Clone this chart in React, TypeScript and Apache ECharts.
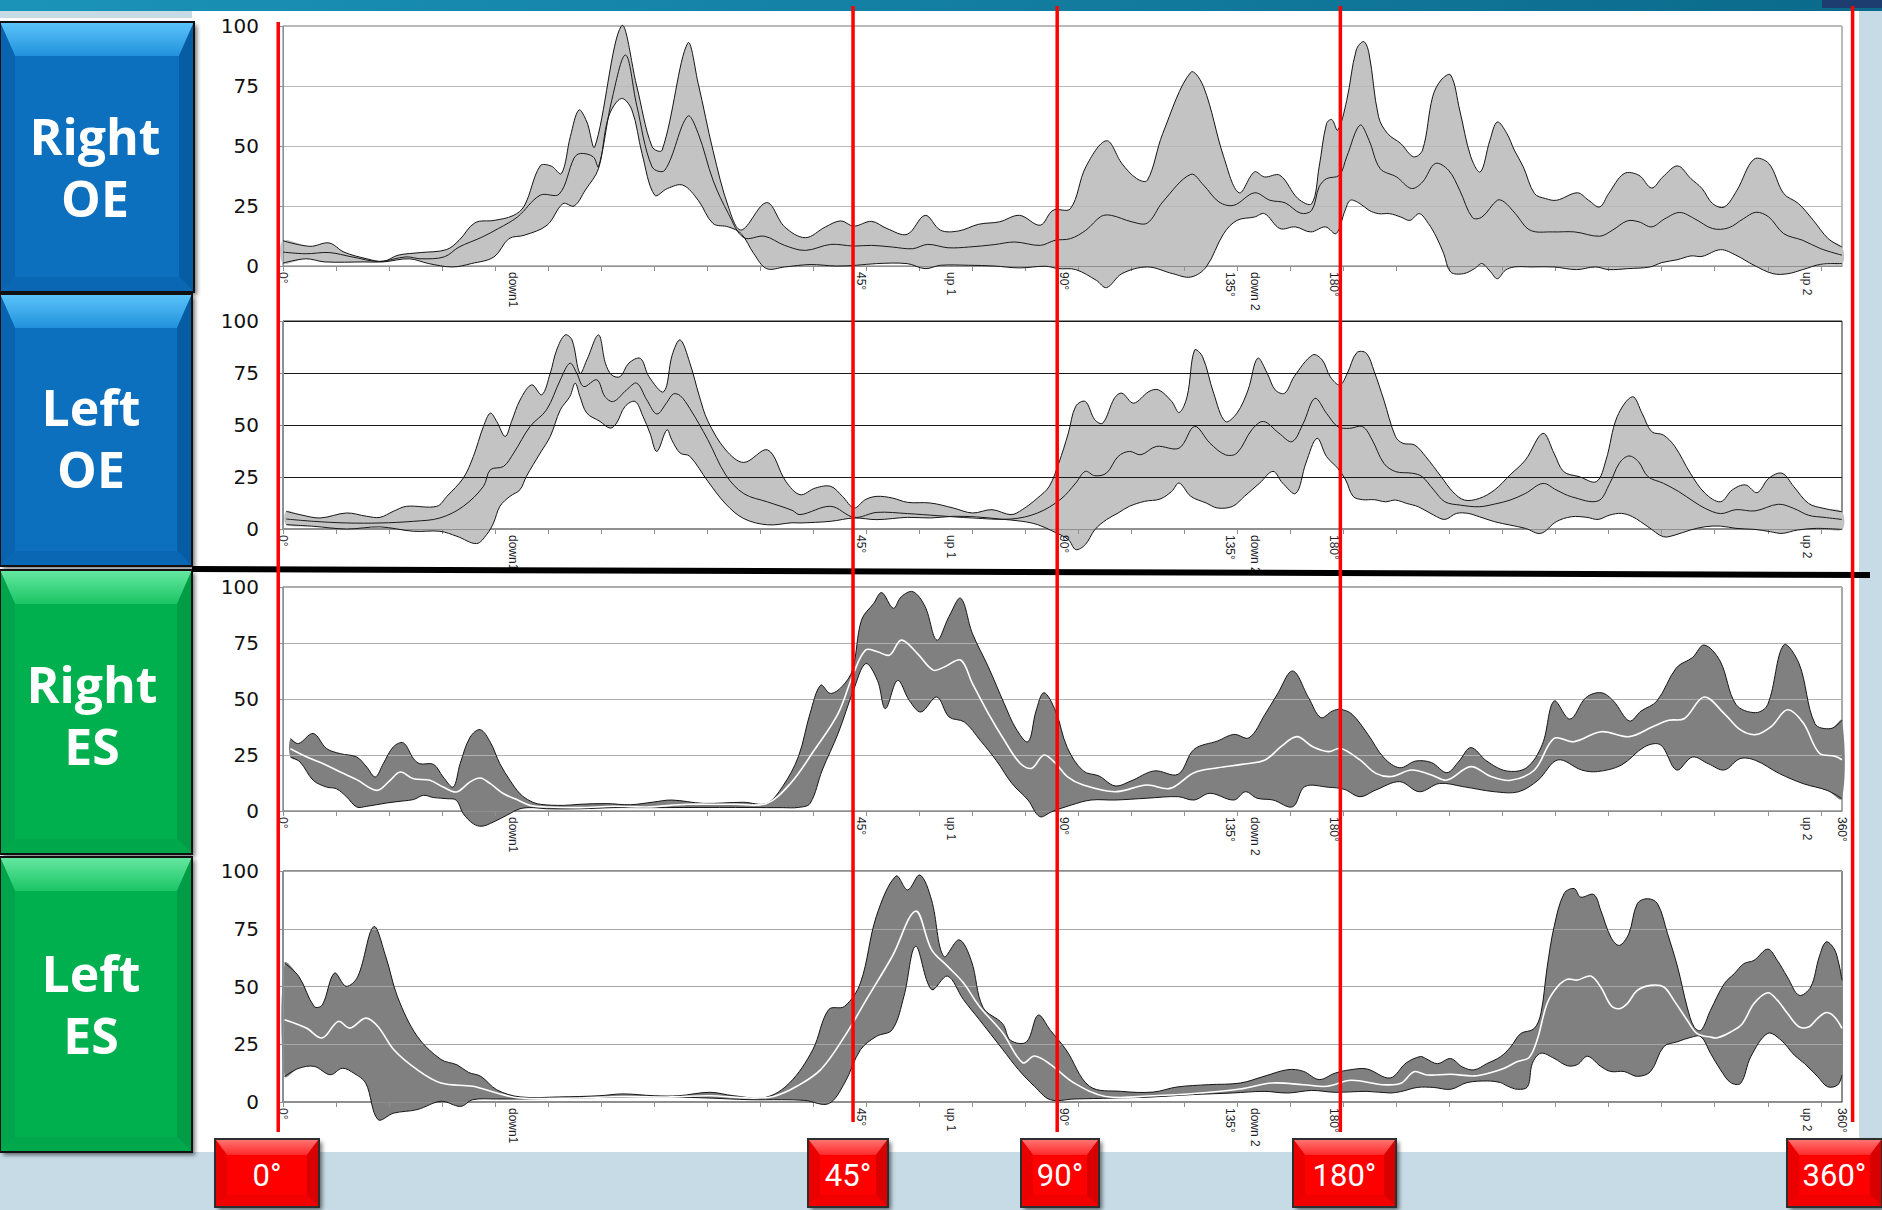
import React, { useEffect, useRef } from "react";
import * as echarts from "echarts";

// ---------------- data (x = frame index, 10 frames per tick; y = % of max) ----------------
const X_MAX = 294;
const tickValues = [0, 10, 20, 30, 40, 50, 60, 70, 80, 90, 100, 110, 120, 130, 140, 150, 160, 170, 180, 190, 200, 210, 220, 230, 240, 250, 260, 270, 280, 290];
const labelsOE = ["0°", "down1", "45°", "up 1", "90°", "135°", "down 2", "180°", "up 2"];
const labelPosOE = [0, 43.4, 109, 126, 147.2, 178.6, 183.3, 198.2, 287.4];
const labelsES = ["0°", "down1", "45°", "up 1", "90°", "135°", "down 2", "180°", "up 2", "360°"];
const labelPosES = [0, 43.4, 109, 126, 147.2, 178.6, 183.3, 198.2, 287.4, 294];
const panelNames = ["Right\nOE", "Left\nOE", "Right\nES", "Left\nES"];
const degreeMarks = ["0°", "45°", "90°", "180°", "360°"];
const degreeMarkPos = [-0.9, 107.5, 146.0, 199.4, 296.0];

// Right OE
const rOE_upper = [[0,10.5],[5.1,8.2],[8.7,9.6],[11.5,5.8],[15.8,3],[18.9,1.9],[21.7,4.5],[26,5.6],[30.8,6.8],[33.2,10.7],[36.2,18],[39.8,19],[43.4,21],[45.5,25],[48.5,41.7],[50.6,41.6],[52.5,38.5],[54.2,54],[55.8,65],[57.3,60],[58.8,49.7],[63.8,100],[66.7,75],[69.6,49.7],[71.5,48.3],[76.3,92.8],[78.3,76],[81.1,48],[84,24.6],[86.4,15],[91.2,26.4],[94.6,16.3],[98.5,11.8],[102.3,16.3],[105.2,18.8],[107.6,16.6],[111,18.6],[113.9,15.6],[117.7,13.2],[121.1,21.1],[124,14.9],[127.4,14.6],[131.2,17.4],[135.1,18.4],[138.9,21.1],[142.8,17],[145.2,23.2],[148.5,23.9],[151.4,41.3],[155.3,52.2],[158.2,42.7],[161,36.4],[163,35.7],[165.9,55.2],[171.2,80.7],[173.6,74.7],[177.4,45.5],[180.3,30.5],[183.2,39.2],[185.1,37.1],[188,37.8],[191.4,28.1],[194,26],[195.4,41.3],[196.8,59.4],[197.8,61],[198.9,56.6],[200.6,69],[202.4,90],[203.8,93.5],[204.8,88.6],[206.6,62.2],[208.3,55.2],[210.8,51],[213.2,45.5],[214.9,48.3],[216.8,70.5],[218.4,77.5],[220.2,79.6],[221.9,65],[224,45.5],[225.8,39.2],[227.6,52.4],[229,60],[230.8,55.2],[232.2,48.3],[233.9,41.3],[236,30.2],[238.1,28.1],[240.2,27.4],[244.1,30.5],[246.2,27.4],[248.3,24.6],[250,30.2],[252.9,38.5],[255.7,37.8],[258.1,32.5],[260.2,37.1],[263,41.7],[265.5,36.4],[267.6,32.3],[269.6,26],[271.8,24.6],[274.2,31.6],[277.4,44.5],[280.2,42.7],[283,30.2],[285.8,26],[288.6,19],[291.4,11.4],[294,7.9]];
const rOE_mean = [[0,5.8],[4.3,5.1],[8.7,5.6],[13,3.8],[18.1,1.9],[23.2,3.8],[26,3],[30.4,3.8],[33.2,7.9],[37.5,12],[40.6,15.6],[44.2,20.4],[48.5,29.5],[52.1,30],[54.9,45],[56.1,46.9],[58.5,45.5],[59.5,41.3],[62,69.1],[64.6,87.9],[66.7,67],[69.6,41.3],[72,39.9],[76.3,62.4],[78.3,55.2],[81.1,35.7],[84,21.8],[86.9,11.8],[90.8,12.4],[94.6,8.6],[98.5,6.5],[103.3,9],[107.6,8.3],[111,8.6],[114.9,7.9],[118.7,7.2],[121.6,9],[125.4,7.6],[129.3,7.9],[134.1,8.9],[138,10],[142.8,8.6],[145.6,10.7],[148.5,11.4],[151.4,14.9],[154.3,20.7],[156.2,21.1],[160.1,18.4],[163,17.9],[165.9,26.7],[171.2,38.2],[173.6,33.7],[176.5,26.7],[179.3,25.3],[183.2,30.5],[186.1,27.4],[189,26.3],[191.9,22],[194,23.2],[195.4,33],[196.8,36.4],[199.2,37.8],[200.6,45.5],[203.1,58.7],[204.8,52.4],[206.9,40.6],[210,37.1],[212.8,32.3],[214.9,35],[217.3,42.7],[219.8,39.9],[221.9,31.6],[224.3,20.2],[226.1,20.4],[229,27.4],[230.3,26.7],[232.4,21.8],[235.2,14.9],[239.4,14.2],[243.6,14.2],[248.3,12.4],[250.7,14.9],[253.5,18.8],[255.7,18.4],[258.1,16.3],[260.6,19.7],[263.4,22.3],[266.2,19.7],[269.6,15.6],[272.6,15.9],[275.4,19.7],[277.8,22.4],[280.2,20.4],[283,13.5],[286.6,10.7],[290,7.2],[294,4.5]];
const rOE_lower = [[0,1.2],[4.3,3],[7.9,1.7],[15.3,1.7],[18.9,1.7],[23.8,3],[27.5,1],[31.9,-0.4],[35.5,1],[39.8,3.8],[42.6,11.4],[45.5,12.8],[49.8,17],[52.8,26],[54.9,25],[57,31.6],[59.5,40.6],[61.4,62.2],[63.8,69.8],[65.8,65],[67.7,46.9],[70.1,29.5],[72.5,32.3],[75.4,33.7],[78.3,27.4],[81.1,17.7],[84,16.3],[86.4,13.5],[88.8,5.1],[91.2,-1.1],[94.6,-0.4],[99.4,0.6],[104.3,0],[108.1,0.3],[111.9,1],[117.7,1],[121.1,-1.1],[124,0.3],[129.3,0.3],[134.1,0],[138.9,-0.8],[143.8,-0.1],[146.2,-1.1],[149.5,-1.5],[153.4,-6],[155.3,-9],[158.2,-3.2],[163,-0.4],[167.8,-3.2],[171.2,-4.6],[174.1,-0.4],[177.4,13.5],[179.9,19],[183.2,20.4],[185.1,21.8],[188,15.6],[190.9,16.3],[193.8,14.2],[196.6,16.3],[198.6,13.5],[200.3,23.2],[201.3,27.4],[203.1,26],[204.8,23.2],[206.6,21.8],[208.7,21.8],[210.8,20.4],[212.5,19],[214.3,21.8],[216,17.7],[217.5,12.1],[218.9,5.1],[220.2,-2.5],[222.6,-3.2],[224.7,-1.1],[226.1,1],[227.6,-2.1],[229,-5.3],[230.5,-1.8],[232.2,-0.4],[235.5,-0.4],[239.7,-0.4],[243.9,-1.5],[247.5,-0.4],[250,-1.5],[253.6,-1.1],[257.8,-0.4],[260,1.4],[262.9,2.6],[265.5,4.2],[267.6,4],[271.1,6.8],[274,4.5],[277.4,0.3],[281,-3.2],[283.8,-3.2],[286.6,-1.5],[290,0.7],[294,1]];

// Left OE
const lOE_upper = [[0.6,8.5],[3.2,6.9],[7,5.3],[12,7.7],[15.8,6.1],[18.3,5.6],[20.8,8.5],[23.3,10.9],[29,10.9],[30.9,15.7],[34,24.5],[35.9,34.9],[37.8,49.3],[39.1,55.7],[40.3,51.7],[41.9,44.5],[43.1,51.7],[44.7,62],[46.9,69.3],[48.8,64.5],[50.4,74.9],[51.6,86],[53.2,93.3],[54.5,90.9],[56,74.9],[57.3,81.3],[59.5,93.3],[60.8,79.7],[62,74],[63.6,73.3],[65.2,79.7],[67.4,82],[69,73.3],[71.8,66],[73.4,83.7],[74.9,90.9],[76.7,80],[78.5,64],[80.1,52],[83.5,38],[86.9,32],[91.4,38],[94.8,23],[97.5,16.5],[100.4,19.7],[103.3,20.5],[105.5,15.7],[107.7,10.1],[109.8,14.1],[112,15.7],[114.9,14.9],[117.8,12.8],[122.1,12.5],[126.4,10.1],[130,7.7],[133.7,9.3],[137.3,6.9],[139.4,9.3],[142.3,14.9],[144.5,20.5],[146.3,31.7],[148.1,46.1],[149.5,59],[151.3,61.3],[153.1,52.5],[154.6,50.9],[156.8,62.9],[158.2,65.3],[160.4,60.5],[163.3,66.1],[165.1,66.9],[167.6,61.3],[169,56],[170.5,63.7],[171.9,86],[173.4,82.9],[175.5,65.3],[177.7,51.7],[179.9,55.7],[182,66.9],[183.8,82.1],[185.6,74.9],[187.1,66.9],[188.9,65.3],[190.7,73.3],[194.2,83.7],[196,81.2],[197.5,73.2],[199.3,69.2],[200.7,74.8],[202.5,84.8],[204.3,84.5],[205.8,75.6],[207.6,62],[209.8,44.4],[211.2,41.2],[213.4,40.4],[215.5,34.8],[218.4,25.2],[220.6,17.9],[222.8,13.9],[225.6,14.7],[228.5,18.8],[231.4,26],[234.3,33.2],[237.6,46],[239.7,36.4],[241.5,27.6],[244.4,25.2],[247.7,22.8],[249.5,33.2],[251.6,54],[254.5,63.6],[256.3,55.6],[258.1,46.8],[260.3,45.2],[262.5,39.6],[265.4,26.8],[268.2,17.1],[271.1,13.1],[273.3,18.8],[275.8,21.2],[278,17.5],[280.2,24.4],[282.7,26.8],[284.9,20.4],[287.7,12.3],[290.6,9.9],[294,8.3]];
const lOE_mean = [[0.6,4.8],[5.7,3.7],[12,2.9],[18.3,2.9],[24.6,3.7],[29.6,5.3],[34,10.9],[37.8,20.5],[39.1,28.5],[41.6,30.1],[43.5,36.5],[46.6,49.3],[49.7,57.3],[52.3,71.7],[54.1,79.7],[55.4,74.9],[56.7,68.5],[59.2,71.7],[60.7,63.7],[62.3,61.3],[64.8,66.9],[66.7,70.1],[68.6,62.1],[70.5,55.3],[72.4,60.9],[73.6,64.9],[74.9,64.1],[76.7,58],[80.1,43],[83.5,26],[86.9,17],[91.4,13],[96,9],[97.5,6.9],[103.3,10.9],[107.7,5.6],[112,8],[117.8,7.4],[123.5,6.4],[130,5.3],[137.3,4.8],[142.3,7.7],[146.7,14.4],[149.5,22.1],[151.3,27.7],[153.1,25.6],[155.3,26.9],[157.5,34.9],[159.6,37.3],[161.8,35.7],[164.7,39.7],[169,38.9],[171.9,49.3],[174.8,41.3],[177.7,35.7],[179.9,36.5],[182.7,47.7],[184.9,51.7],[187.8,46.1],[190.3,42],[192.4,50.8],[194.6,62.8],[196.8,55.6],[198.9,49.2],[201.1,48.4],[203.6,49.2],[205.4,42.8],[207.6,31.6],[209.8,27.6],[213,26.8],[214.8,25.2],[217,18.8],[219.1,13.1],[222,11.5],[225.6,10.7],[228.5,12],[231.4,13.9],[234.3,17.1],[237.6,21.9],[240.1,18.8],[243,15.5],[248,13.5],[250.2,21.9],[252,31.6],[253.8,35.1],[255.6,32.4],[257.4,25.2],[260.3,22],[263.2,18],[266.1,13.1],[268.2,9.9],[271.1,7.4],[274,9.3],[277.6,8.7],[282,11.9],[284.9,9.9],[287.7,6.6],[290.6,5.6],[294,4.6]];
const lOE_lower = [[0.6,2.1],[5.7,1.3],[12,0],[18.3,1],[24.6,-1.1],[29.6,-1.1],[32.8,-3.5],[36.5,-7],[38.4,-2.7],[39.7,2.9],[40.9,10.9],[42.8,15.7],[44.7,18.9],[45.9,25.3],[48.5,36.5],[50.4,44.5],[52.3,57.3],[54.1,63.7],[55.1,70.1],[56,63.7],[57.3,55.7],[59.8,51.7],[61.7,48.5],[62.9,50.9],[64.5,58.9],[66.4,61.3],[67.9,54.1],[69.2,46.1],[70.5,37.3],[72.4,47.7],[73.3,42.9],[74.9,36.5],[76.7,35],[80.1,23],[83.5,12],[86.9,5],[91.4,2],[96,3],[97.5,2.9],[103.3,3.7],[107.7,5.3],[112,4.5],[117.8,5.6],[122.1,5.3],[126.4,6.1],[130.8,5.8],[135.1,4.8],[139.4,3.7],[142.3,2.1],[145.2,-1.1],[148.1,-5.1],[149.5,-9.9],[151.3,-7.5],[153.1,-0.3],[155.3,4.5],[157.5,7.7],[159.6,10.9],[162.5,13.3],[165.4,14.4],[167.6,18.1],[169,22.1],[171.2,15.7],[174.1,12.5],[176.2,10.1],[179.1,10.9],[181.3,15.7],[184.2,22.1],[186.7,27.7],[188.5,22.1],[191,17.1],[192.9,31.7],[195,43.6],[196.8,34.8],[198.9,29.2],[200.4,23.6],[201.8,15.7],[203.6,14.1],[205.8,14.1],[207.9,13.1],[209.8,13.9],[211.9,12.3],[214.1,10.7],[217,6.7],[219.1,4.6],[221.3,7.5],[223.5,7.5],[225.6,5.9],[228.5,3.5],[231.4,1.9],[234.3,0.3],[237.2,-2.1],[240.1,3.5],[243,5.9],[245.9,5.6],[248,4.6],[250.2,6.7],[252.4,7.5],[254.5,5.9],[257.4,1.1],[260.3,-3.7],[262.5,-2.9],[265.4,-0.5],[268.2,1.1],[271.1,1.4],[274,0.3],[277.6,-0.2],[280.5,-1.3],[282.7,-2.1],[285.6,-0.5],[289.2,0.3],[294,-0.2]];

// Right ES
const rES_upper = [[1.4,32.3],[2.9,30.1],[5.7,34.6],[8.2,27.9],[10.8,25.6],[13.9,24.1],[15.8,19.6],[17.4,15.2],[18.9,21.1],[20.8,28.6],[22.7,30.4],[24.6,23.4],[25.8,21.1],[28.4,20.8],[30.2,15.2],[32.1,10.7],[33.4,21.1],[35.3,33],[37.2,36.3],[39.1,30.7],[40.9,21.1],[42.8,13.7],[44.7,7.7],[46.6,4.5],[48.5,3],[52.9,2.5],[56,3],[61,3.3],[65.5,2.8],[69.9,4],[73.3,4.9],[79.3,3.4],[86.8,3.9],[91.2,3.4],[94.2,10.9],[97.2,24.3],[99.4,43.6],[101.4,56.2],[103.2,52.5],[105.4,55.5],[107.4,63],[109.1,85.3],[111.4,92.7],[112.9,97.5],[115.1,90.5],[116.6,95.7],[118.8,97.9],[121.1,91.2],[123.3,76.3],[125.6,86.8],[127.8,95],[130,79.3],[133,64.4],[136,48],[138.2,36.9],[140.5,30.9],[142,44.6],[143.5,52.8],[145.7,44.6],[147.9,28.3],[150.9,17.9],[153.9,15.6],[156.9,11.2],[159.9,13.4],[164.3,17.9],[168.8,16.4],[171.8,27.5],[176.3,31.3],[179.3,34.2],[182.2,32.7],[185.2,43.2],[187.5,52.1],[190.4,62.5],[193.4,50.6],[195.7,41.7],[197.9,44.6],[199.4,45.4],[201.6,43.2],[204.6,34.2],[207.6,23.8],[210.6,19.3],[213.6,22.3],[216.6,21.6],[219.5,17.1],[221.8,22.3],[224,28.3],[227,22.3],[230.7,17.9],[234.5,19.3],[237.5,29.8],[239.7,49.1],[242.7,41],[245.7,50.6],[248.6,52.8],[250.9,49.1],[253.9,40.2],[256.1,44.6],[259.1,49.1],[262.8,64],[265.8,68.5],[268,74.1],[271,67],[274,47.6],[277.7,43.9],[280,47.6],[283,74.1],[285.9,65.8],[288.9,39],[291.9,36.8],[294,40.5]];
const rES_mean = [[1.4,27.8],[4.5,24.1],[7.6,21.1],[10.8,17.4],[13.9,14],[17.7,9.2],[20.2,13.7],[22.1,17.4],[24.6,14.4],[27.7,13.7],[30.2,10.7],[32.7,8.5],[35.3,13],[37.2,14.7],[39.1,12.2],[41.6,7.7],[44.1,5.1],[46.6,2.5],[49.7,1.8],[56,1.5],[62.3,2.1],[68.6,1.8],[76.3,3],[85.3,3],[91.2,3.4],[95.7,12.3],[100.2,27.2],[104.7,43.6],[107.6,61.5],[109.9,71.9],[112.1,71.1],[114.4,69.6],[116.6,76.3],[119.6,70.4],[122.6,62.9],[124.8,64.4],[127.8,67.4],[130,57],[133,43.6],[136,31.7],[139,21.3],[141.2,19.1],[143.5,25],[145.7,21.3],[147.9,15.4],[150.9,11.6],[156.9,8.6],[162.9,11.6],[167.3,10.1],[171.8,17.1],[176.3,19.3],[180.8,20.8],[185.2,22.8],[188.2,28.7],[191.2,33.2],[194.2,28.7],[197.2,26.5],[199.4,28],[203.1,22.8],[206.1,16.8],[209.1,15.4],[212.8,18.3],[216.6,16.1],[219.5,13.8],[224,19.8],[227.8,15.4],[231.5,13.7],[236,18.3],[239.7,32.4],[243.4,30.9],[248.6,35.4],[253.9,33.2],[258.3,37.6],[261.3,40.5],[264.3,41.3],[268,50.9],[271.8,43.5],[274.8,36.3],[277.7,34.1],[280.7,37.8],[283.7,45.2],[286.7,39.3],[289.7,25.9],[292.7,24.4],[294,22.9]];
const rES_lower = [[1.4,24.1],[3.2,21.9],[5.7,13.7],[8.2,10.7],[10.1,9.9],[12,6.3],[13.9,1.8],[15.8,2.1],[19.6,3.6],[22.7,4.5],[24.6,5.1],[26.5,7],[28.4,6],[30.9,5.5],[32.7,4.8],[34,-1.2],[35.9,-5.7],[37.5,-6.8],[39.7,-4.9],[42.2,-1.9],[44.7,1],[47.2,1.5],[49.7,1],[56,1],[62.3,1.5],[68.6,1.5],[82.3,1.6],[94.2,1.5],[97.2,1.6],[99.4,3.4],[101.7,18.3],[104.7,34.7],[107.6,54],[109.9,65.8],[112.1,58.3],[113.6,45.7],[115.9,58.3],[118.1,49.4],[120.3,44.2],[123.3,50.9],[125.6,42],[128.5,39.7],[131.5,31.5],[134.5,22.6],[137.5,12.2],[140.5,4.9],[142.7,-2.5],[145,-0.3],[148.7,2.7],[152.4,4.9],[156.9,4.9],[162.9,5.7],[168.8,6.4],[171.8,4.9],[174.8,7.9],[179.3,4.9],[181.5,8.6],[183.7,5.7],[186.7,4.9],[190.4,1.9],[192.7,10.9],[197.2,10.6],[200.1,9.7],[203.1,6.4],[206.1,9.4],[210.6,13.1],[214.3,8.6],[218.1,12.3],[222.5,10.9],[228.5,8.6],[233,8.6],[236.7,13.8],[240.4,22.8],[244.9,18.3],[247.9,17.6],[252.4,20.5],[256.8,28.7],[259.8,29.5],[262.8,18.3],[265.8,24.1],[268.8,21.1],[271.8,18.3],[274.8,23.4],[277.7,22.6],[282.2,16.7],[286.7,12.2],[291.2,9.2],[294,5.5]];

// Left ES
const lES_upper = [[0.3,60.1],[3,54.3],[5.9,41.3],[7.4,42],[9.7,55.8],[11.9,50.1],[14.1,54.3],[17.1,75.9],[19.4,62.8],[21.6,45.5],[25.3,28.5],[29.8,18.4],[32.8,16.1],[35,12.8],[37.3,11.1],[40.3,5.3],[44.7,2.2],[52.2,2.2],[59.6,2.7],[64.1,3.5],[70.1,2.7],[74.6,2.7],[80.5,4.2],[85,2.7],[91,2],[95.5,8.2],[99.9,22.6],[102.9,40],[105.9,41.4],[108.9,51.6],[111.9,80.4],[115.6,97.8],[117.8,91.8],[120.1,98.3],[122.3,87.5],[124.6,63],[127.5,70.2],[129.8,61.2],[132,41],[135.7,33.9],[137.2,26.7],[140.2,26],[142.4,37.6],[144.7,31.1],[147.7,22.5],[152.1,6.8],[158.1,4.6],[164.1,4.3],[168.6,6.5],[174.5,7.5],[180.5,8.2],[185,11.1],[189.5,14],[192.4,13.3],[195.4,9.7],[198.4,12.5],[201.4,14],[204.4,14.3],[208.8,10.4],[211.8,16.9],[214.5,19.7],[215.5,18.8],[217.7,16.6],[220.2,18.8],[222.4,15.2],[224.6,13.9],[227.1,16.7],[229.6,19.6],[231.5,23.8],[233.4,29.6],[235.9,31.7],[237.2,38.2],[238.4,58.4],[239.7,75.8],[241.6,90.3],[243.5,92.4],[244.7,88.7],[247.2,89.8],[248.5,83],[250.4,71.4],[252,67.8],[253.8,72.9],[255.4,85.9],[257.3,88],[259.2,85.9],[261.1,72.9],[263,58.4],[264.8,41.1],[266.1,32.5],[267.4,31],[269.2,39.7],[271.8,51.2],[273.7,55.6],[275.5,59.9],[277.4,61.3],[280,66.2],[281.8,61.3],[283.7,54.1],[285.9,46.2],[288.1,49.8],[289.7,62.8],[291,69.3],[292.5,66.4],[293.4,59.9],[294,52.7]];
const lES_mean = [[0.3,35.6],[4.4,32],[7.4,27.7],[10.4,34.9],[12.6,32],[15.6,36.3],[17.9,32.7],[20.9,22.6],[25.3,14],[29.8,8.2],[35.8,6.8],[40.3,3.9],[44.7,1.7],[55.2,1.7],[64.1,2.4],[73.1,2.2],[80.5,2.7],[88,1.7],[92.5,2.4],[96.9,6.8],[101.4,14],[105.9,28.4],[110.4,45.8],[114.9,63.1],[119.3,82.6],[122.3,66],[125.3,58.8],[128.3,51.6],[131.3,41.5],[135.7,30],[139.5,17],[141.7,19.9],[144.7,16.3],[149.2,8.2],[155.1,2.4],[164.1,2.7],[173,3.9],[180.5,5.6],[186.5,8.2],[192.4,7.5],[196.9,6.8],[201.4,9.4],[207.4,7.5],[210.8,8.1],[213.3,13.1],[215.8,11.7],[220.2,12],[224.6,11.3],[227.7,12.7],[230.3,14.6],[232.8,17.5],[235,19.3],[236.5,26.8],[238.4,42.7],[240.3,49.8],[242.2,53.1],[244.1,52.8],[246.6,54.5],[248.5,49.8],[250.4,41.9],[252,40.4],[253.5,42.6],[255.4,48.3],[257.9,50.5],[260.4,49.8],[262.3,44],[264.8,35.4],[266.7,29.6],[269.2,28.1],[270.5,27.8],[273,30.3],[275.2,33.9],[277.4,42.6],[280,47.3],[281.8,44.1],[283.7,38.4],[285.9,32.6],[287.8,32.6],[289.4,36.2],[291,38.7],[292.5,37],[294,31.9]];
const lES_lower = [[0.3,11.1],[3,14.6],[5.9,15.4],[8.9,11.8],[11.2,14.6],[13.4,12.4],[15.6,8.2],[17.9,-7.6],[20.9,-4.8],[25.3,-3.3],[29.8,0.3],[33.5,-1.9],[35.8,1],[40.3,1.3],[44.7,1.3],[55.2,1.7],[64.1,2.2],[73.1,2.2],[80.5,1.7],[88,1],[94,1],[98.4,0.7],[102.9,-0.7],[105.9,8.2],[108.9,22.6],[111.9,28.4],[114.9,31.3],[117.1,45.8],[119.3,67.4],[122.3,48.7],[125.3,54.5],[128.3,44.4],[131.3,35.7],[135.7,22.8],[138.7,14],[141.7,6.8],[144.7,1],[149.2,1.3],[156.6,1.7],[164.1,2.2],[171.5,3.2],[179,3.9],[185,4.6],[189.5,3.9],[194,5],[198.4,4.2],[204.4,4.6],[208.8,3.9],[210.8,4.5],[213.9,6.3],[217,6.3],[220.2,5.5],[223.3,8.4],[227.1,9.1],[229.6,8.4],[230.9,6.9],[232.8,5.5],[234.7,6.6],[235.6,16.7],[237.2,21.1],[239.7,18.9],[242.2,15.7],[244.1,16.2],[246,19.8],[248.5,15.4],[250.4,13.2],[252.9,13.2],[255.4,11.1],[257.9,13.2],[260.4,24],[263,26.1],[265.5,28],[267.4,28.3],[269.2,21.1],[271.1,13.9],[273,8.4],[274.9,8.1],[276.8,19.6],[280,29.7],[282.5,26.8],[285,20.3],[286.9,16.7],[289.4,11],[291.3,6.6],[293.2,7.4],[294,11.7]];

// ---------------- layout & styles ----------------
const W = 1882;
const H = 1210;
const SMOOTH = 0.35;

const panels = [
  { upper: rOE_upper, mean: rOE_mean, lower: rOE_lower, es: false },
  { upper: lOE_upper, mean: lOE_mean, lower: lOE_lower, es: false },
  { upper: rES_upper, mean: rES_mean, lower: rES_lower, es: true },
  { upper: lES_upper, mean: lES_mean, lower: lES_lower, es: true },
];
const gridBoxes = [
  { left: 283, top: 26, width: 1559, height: 240 },
  { left: 283, top: 321, width: 1559, height: 208 },
  { left: 283, top: 587, width: 1559, height: 224 },
  { left: 283, top: 871, width: 1559, height: 231 },
];
const splitColors = ["#b8b8b8", "#1a1a1a", "#b0b0b0", "#a6a6a6"];
const borderColors = ["#777777", "#222222", "#555555", "#1a1a1a"];
const bandFill = { oe: "#c3c3c3", es: "#808080" };
const meanColor = { oe: "#1a1a1a", es: "#ffffff" };

const sideBoxes = [
  { x: 0, y: 22, w: 194, h: 270, pal: "blue", tx: 95, ty: 167 },
  { x: 0, y: 294, w: 192, h: 272, pal: "blue", tx: 91, ty: 438 },
  { x: 0, y: 570, w: 192, h: 284, pal: "green", tx: 92, ty: 715 },
  { x: 0, y: 857, w: 192, h: 295, pal: "green", tx: 91, ty: 1004 },
];
const redBoxes = [
  { x: 215, w: 104 },
  { x: 808, w: 80 },
  { x: 1021, w: 78 },
  { x: 1293, w: 103 },
  { x: 1787, w: 95 },
];
const redLineY = [
  [22, 1132],
  [6, 1122],
  [6, 1132],
  [6, 1132],
  [6, 1122],
];

const palettes: any = {
  blue: { main: "#0b6fbf", top0: "#5cc4fa", top1: "#2291dc", left: "#0963ae", right: "#075da4", bottom: "#0a67b3", edge: "#111" },
  green: { main: "#00b050", top0: "#66e8a2", top1: "#1bc565", left: "#00a54b", right: "#009d46", bottom: "#00a84c", edge: "#111" },
  red: { main: "#ff0000", top0: "#ff7676", top1: "#ff2a2a", left: "#ea0000", right: "#d80000", bottom: "#f20000", edge: "#2e2e2e" },
};

function bevelBox(x: number, y: number, w: number, h: number, pal: any, b: number, bt: number, z: number) {
  const x2 = x + w;
  const y2 = y + h;
  return [
    {
      type: "rect", z, shape: { x, y, width: w, height: h },
      style: { fill: pal.main, shadowBlur: 4, shadowOffsetX: 3, shadowOffsetY: 3, shadowColor: "rgba(0,0,0,0.55)" },
    },
    {
      type: "polygon", z: z + 1, shape: { points: [[x, y], [x2, y], [x2 - b, y + bt], [x + b, y + bt]] },
      style: { fill: { type: "linear", x: 0, y: 0, x2: 0, y2: 1, colorStops: [{ offset: 0, color: pal.top0 }, { offset: 1, color: pal.top1 }] } },
    },
    { type: "polygon", z: z + 1, shape: { points: [[x, y], [x + b, y + bt], [x + b, y2 - b], [x, y2]] }, style: { fill: pal.left } },
    { type: "polygon", z: z + 1, shape: { points: [[x2, y], [x2, y2], [x2 - b, y2 - b], [x2 - b, y + bt]] }, style: { fill: pal.right } },
    { type: "polygon", z: z + 1, shape: { points: [[x, y2], [x + b, y2 - b], [x2 - b, y2 - b], [x2, y2]] }, style: { fill: pal.bottom } },
    { type: "rect", z: z + 2, shape: { x, y, width: w, height: h }, style: { fill: "none", stroke: pal.edge, lineWidth: 2 } },
  ];
}

function buildOption() {
  const grid: any[] = [];
  const xAxis: any[] = [];
  const yAxis: any[] = [];
  const series: any[] = [];
  panels.forEach((p, i) => {
    grid.push({ ...gridBoxes[i], show: true, borderColor: borderColors[i], borderWidth: 1, backgroundColor: "transparent" });
    const names = p.es ? labelsES : labelsOE;
    const pos = p.es ? labelPosES : labelPosOE;
    xAxis.push({
      type: "value", gridIndex: i, min: 0, max: X_MAX, z: 2,
      axisLine: { show: true, lineStyle: { color: "#8f8f8f", width: 1 } },
      axisTick: { show: true, customValues: tickValues, length: 5, lineStyle: { color: "#8f8f8f" } },
      axisLabel: {
        show: true, customValues: pos, rotate: -90, margin: 6, fontSize: 12,
        fontFamily: "Liberation Sans", color: "#1e1e2a",
        formatter: (v: number) => {
          const k = pos.findIndex((q) => Math.abs(q - v) < 1e-6);
          return k >= 0 ? names[k] : "";
        },
      },
      splitLine: { show: false },
    });
    yAxis.push({
      type: "value", gridIndex: i, min: 0, max: 100, interval: 25, z: 2,
      axisLine: { show: true, lineStyle: { color: "#8f8f8f" } },
      axisTick: { show: true, length: 5, lineStyle: { color: "#8f8f8f" } },
      axisLabel: { fontSize: 20, fontFamily: "DejaVu Sans", color: "#111", margin: 24 },
      splitLine: { show: true, lineStyle: { color: splitColors[i], width: 1 } },
    });
    const fill = p.es ? bandFill.es : bandFill.oe;
    const upper = p.upper;
    const lower = p.lower;
    const mean = p.mean;
    const mColor = p.es ? meanColor.es : meanColor.oe;
    const mWidth = p.es ? 1.6 : 1;
    // shaded band between the upper and lower envelopes (under the grid lines)
    series.push({
      type: "custom", coordinateSystem: "cartesian2d", xAxisIndex: i, yAxisIndex: i,
      data: [[0, 0]], z: 1, silent: true, clip: false,
      renderItem: (_params: any, api: any) => {
        const pts = upper.map((d) => api.coord(d)).concat(lower.slice().reverse().map((d) => api.coord(d)));
        return { type: "polygon", shape: { points: pts, smooth: SMOOTH }, style: { fill, stroke: "none" } };
      },
    });
    // envelope outlines and mean curve (above the grid lines)
    series.push({
      type: "custom", coordinateSystem: "cartesian2d", xAxisIndex: i, yAxisIndex: i,
      data: [[0, 0]], z: 3, silent: true, clip: false,
      renderItem: (_params: any, api: any) => ({
        type: "group",
        children: [
          { type: "polyline", shape: { points: upper.map((d) => api.coord(d)), smooth: SMOOTH }, style: { fill: null, stroke: "#151515", lineWidth: 1 } },
          { type: "polyline", shape: { points: lower.map((d) => api.coord(d)), smooth: SMOOTH }, style: { fill: null, stroke: "#151515", lineWidth: 1 } },
          { type: "polyline", shape: { points: mean.map((d) => api.coord(d)), smooth: SMOOTH }, style: { fill: null, stroke: mColor, lineWidth: mWidth } },
        ],
      }),
    });
  });
  return { animation: false, backgroundColor: "#ffffff", grid, xAxis, yAxis, series };
}

function buildGraphics(lineXs: number[]) {
  const els: any[] = [];
  els.push({
    type: "rect", z: 0, shape: { x: 0, y: 0, width: W, height: 11 },
    style: { fill: { type: "linear", x: 0, y: 0, x2: 1, y2: 0, colorStops: [{ offset: 0, color: "#1b93b9" }, { offset: 1, color: "#0b6a8b" }] } },
  });
  els.push({ type: "rect", z: 0, shape: { x: 1822, y: 0, width: 60, height: 8 }, style: { fill: "#1d3c70" } });
  els.push({ type: "rect", z: 0, shape: { x: 0, y: 11, width: 192, height: 7 }, style: { fill: "#c6dbe6" } });
  els.push({ type: "rect", z: 0, shape: { x: 1859, y: 11, width: 23, height: H - 11 }, style: { fill: "#c6dbe6" } });
  els.push({ type: "rect", z: 0, shape: { x: 0, y: 1152, width: W, height: H - 1152 }, style: { fill: "#c6dbe6" } });

  sideBoxes.forEach((b, i) => {
    els.push(...bevelBox(b.x, b.y, b.w, b.h, palettes[b.pal], 15, 34, 5));
    els.push({
      type: "text", z: 9,
      style: {
        text: panelNames[i], x: b.tx, y: b.ty, align: "center", verticalAlign: "middle",
        fontSize: 50, lineHeight: 62, fontWeight: "bold", fontFamily: "Open Sans", fill: "#ffffff",
      },
    });
  });

  els.push({ type: "line", z: 12, shape: { x1: 192, y1: 569, x2: 1870, y2: 575 }, style: { stroke: "#000", lineWidth: 6 } });

  lineXs.forEach((x, i) => {
    els.push({ type: "line", z: 40, shape: { x1: x, y1: redLineY[i][0], x2: x, y2: redLineY[i][1] }, style: { stroke: "#ff0000", lineWidth: 3.5 } });
  });

  redBoxes.forEach((b, i) => {
    els.push(...bevelBox(b.x, 1139, b.w, 68, palettes.red, 12, 16, 42));
    els.push({
      type: "text", z: 46,
      style: {
        text: degreeMarks[i], x: b.x + b.w / 2, y: 1139 + 36, align: "center", verticalAlign: "middle",
        fontSize: 31, fontFamily: "Roboto", fill: "#ffffff",
      },
    });
  });
  return els;
}

export default function App() {
  const ref = useRef<HTMLDivElement>(null);
  useEffect(() => {
    document.body.style.margin = "0";
    const chart = echarts.init(ref.current as HTMLDivElement, null, { renderer: "svg", width: W, height: H });
    chart.setOption(buildOption());
    const lineXs = degreeMarkPos.map((v) => chart.convertToPixel({ xAxisIndex: 0 }, v) as number);
    chart.setOption({ graphic: { elements: buildGraphics(lineXs) } });
    return () => chart.dispose();
  }, []);
  return <div ref={ref} style={{ width: W, height: H, background: "#fff" }} />;
}
